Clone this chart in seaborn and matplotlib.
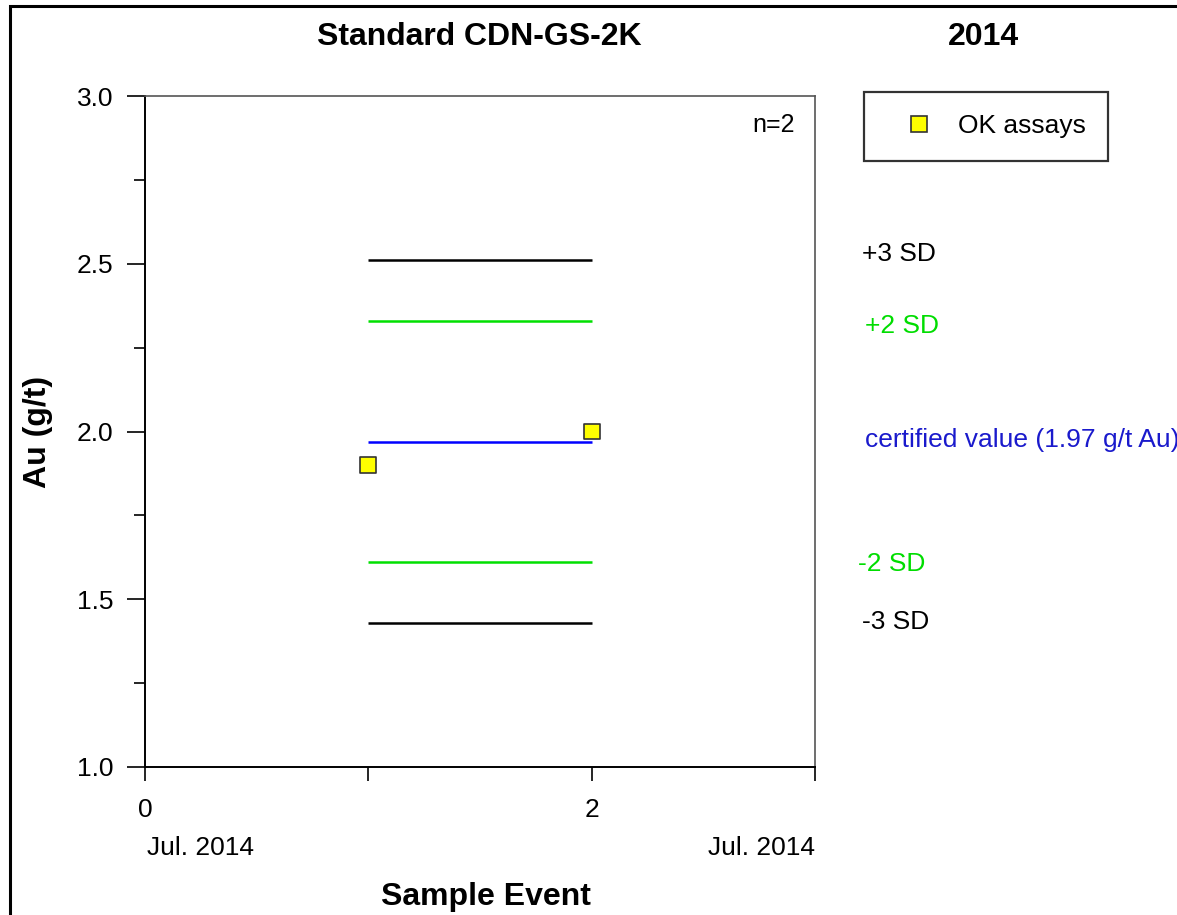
import matplotlib
matplotlib.use('Agg')
import matplotlib.pyplot as plt
import matplotlib.transforms as mtransforms
from matplotlib.patches import Rectangle
from matplotlib.ticker import MultipleLocator, FixedLocator, FormatStrFormatter
import seaborn as sns
import pandas as pd

# data
sample_event = [1, 2]
au_values = [1.90, 2.00]
limit_labels = ['+3 SD', '+2 SD', 'certified value (1.97 g/t Au)', '-2 SD', '-3 SD']
limit_values = [2.51, 2.33, 1.97, 1.61, 1.43]
limit_span = [1, 2]
x_tick_labels = ['0', '', '2', '']
date_labels = ['Jul. 2014', 'Jul. 2014']

limit_colors = ['black', '#00e000', '#0000ff', '#00e000', 'black']
label_colors = ['black', '#00dd00', '#1a1acc', '#00dd00', 'black']
label_dy = [0.019, -0.016, 0.005, -0.005, 0.002]
label_x = [1.07, 1.075, 1.075, 1.064, 1.07]

sns.set_style('white')
plt.rcParams['font.family'] = ['Liberation Sans', 'DejaVu Sans']
plt.rcParams['text.color'] = 'black'
plt.rcParams['axes.labelcolor'] = 'black'
plt.rcParams['xtick.color'] = 'black'
plt.rcParams['ytick.color'] = 'black'

fig = plt.figure(figsize=(11.77, 9.15), dpi=100)
ax = fig.add_axes([145 / 1177, 1 - 767 / 915, 670 / 1177, 671 / 915])

# reference lines
for val, col in zip(limit_values, limit_colors):
    ax.hlines(val, limit_span[0], limit_span[1], colors=col, linewidth=1.8, zorder=2)

df = pd.DataFrame({'event': sample_event, 'au': au_values, 'kind': 'OK assays'})
sns.scatterplot(data=df, x='event', y='au', hue='kind', palette=['#ffff00'],
                marker='s', s=130, edgecolor='#333333', linewidth=1.2, ax=ax, zorder=3)

ax.set_xlim(0, 3)
ax.set_ylim(1.0, 3.0)
ax.xaxis.set_major_locator(FixedLocator([0, 1, 2, 3]))
ax.set_xticklabels(x_tick_labels)
ax.yaxis.set_major_locator(MultipleLocator(0.5))
ax.yaxis.set_minor_locator(MultipleLocator(0.25))
ax.yaxis.set_major_formatter(FormatStrFormatter('%.1f'))
ax.tick_params(axis='y', which='major', direction='out', length=13, width=1.2,
               labelsize=19, pad=10, left=True)
ax.tick_params(axis='y', which='minor', direction='out', length=8, width=1.2, left=True)
ax.tick_params(axis='x', which='major', direction='out', length=10, width=1.2,
               labelsize=19, pad=12, bottom=True)

for side in ['left', 'bottom']:
    ax.spines[side].set_color('black')
    ax.spines[side].set_linewidth(1.4)
for side in ['top', 'right']:
    ax.spines[side].set_color('#555555')
    ax.spines[side].set_linewidth(1.2)

ax.set_xlabel('Sample Event', fontsize=23, fontweight='bold')
ax.xaxis.set_label_coords(0.509, -0.171)
ax.set_ylabel('Au (g/t)', fontsize=23, fontweight='bold')
ax.yaxis.set_label_coords(-0.137, 0.5)

fig.text(479 / 1177, 1 - 37 / 915, 'Standard CDN-GS-2K', fontsize=23,
         fontweight='bold', ha='center', va='center')
fig.text(983 / 1177, 1 - 37 / 915, '2014', fontsize=23, fontweight='bold',
         ha='center', va='center')

# date labels under the x axis
ax.text(0.003, -0.121, date_labels[0], transform=ax.transAxes, fontsize=19,
        ha='left', va='center')
ax.text(1.0, -0.121, date_labels[1], transform=ax.transAxes, fontsize=19,
        ha='right', va='center')

ax.text(0.97, 0.975, 'n=2', transform=ax.transAxes, fontsize=18, ha='right', va='top')

# labels for the limit lines, right of the plot
trans = mtransforms.blended_transform_factory(ax.transAxes, ax.transData)
for lab, val, col, lx, dy in zip(limit_labels, limit_values, label_colors, label_x, label_dy):
    ax.text(lx, val + dy, lab, transform=trans, color=col, fontsize=19,
            ha='left', va='center', clip_on=False)

leg = ax.legend(loc='upper left', bbox_to_anchor=(864 / 1177, 1 - 92 / 915),
                bbox_transform=fig.transFigure, fontsize=19, frameon=True,
                fancybox=False, edgecolor='black', borderpad=0.85,
                handlelength=2.5, handletextpad=0.2, borderaxespad=0, title=None)
leg.get_frame().set_linewidth(1.6)

# outer frame of the figure
fig.patches.append(Rectangle((10 / 1177, -0.1), 1.2, 1 - 6 / 915 + 0.1,
                             transform=fig.transFigure, fill=False,
                             edgecolor='black', linewidth=2.2))

fig.savefig('out.png', dpi=100)
